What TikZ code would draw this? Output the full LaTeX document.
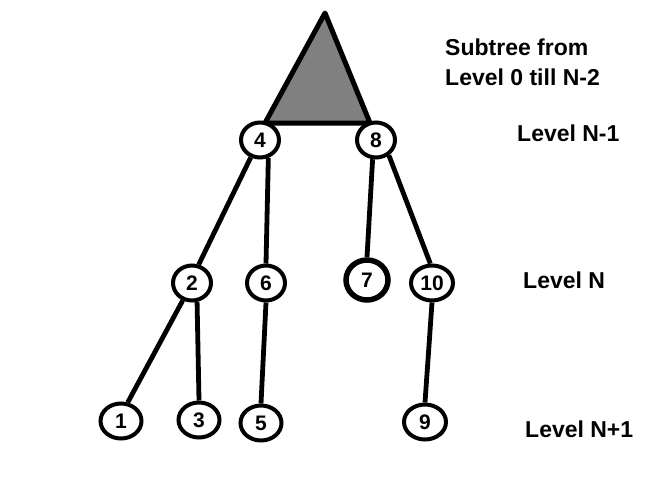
\documentclass[tikz,border=0pt]{standalone}
\usepackage{fontspec}
\setmainfont{Liberation Sans}
\usetikzlibrary{shapes.geometric}
\definecolor{SubtreeGray}{RGB}{128,128,128}
\tikzset{
  keynode/.style={ellipse,draw=black,line width=4pt,fill=white,
    minimum width=38pt,minimum height=35pt,inner sep=0pt,
    font=\fontsize{21}{21}\selectfont\bfseries},
  bignode/.style={keynode,line width=5.5pt,minimum width=42pt,minimum height=40pt},
  edge/.style={line width=4.8pt,black},
  levellabel/.style={anchor=base west,inner sep=0pt,
    font=\fontsize{23}{26}\selectfont\bfseries,align=left}
}

\begin{document}
\begin{tikzpicture}[x=1pt,y=-1pt]
          \useasboundingbox (0,0) rectangle (661,503);
          % subtree above level N-1
          \coordinate (apex) at (325,13);
          \filldraw[fill=SubtreeGray,draw=black,line width=5pt,line join=round]
            (apex) -- (370,123) -- (265,123) -- cycle;
          % level N-1
          \node[keynode] (n4) at (260,140) {4};
          \node[keynode] (n8) at (376,140) {8};
          % level N
          \node[keynode] (n2) at (192,283) {2};
          \node[keynode] (n6) at (266,283) {6};
          \node[bignode] (n7) at (367,280) {7};
          \node[keynode,minimum width=42pt] (n10) at (432,283) {10};
          % level N+1
          \node[keynode,minimum width=41pt] (n1) at (121,421) {1};
          \node[keynode,minimum width=41pt] (n3) at (199,420) {3};
          \node[keynode,minimum width=41pt] (n5) at (261,423) {5};
          \node[keynode,minimum width=42pt] (n9) at (425,422) {9};
          % edges
          \draw[edge] (n4.242) -- (n2.70);
          \draw[edge] (n4.-65) -- (n6.north);
          \draw[edge] (n8.-100) -- (n7.north);
          \draw[edge] (n8.-50) -- (n10.95);
          \draw[edge] (n2.-118) -- (n1.70);
          \draw[edge] (n2.-75) -- (n3.north);
          \draw[edge] (n6.south) -- (n5.north);
          \draw[edge] (n10.south) -- (n9.north);
          % level names
          \node[levellabel] (sub) at (445,56) {Subtree from};
          \node[levellabel] (sub2) at (445,85) {Level 0 till N-2};
          \node[levellabel] (lvl1) at (517,141) {Level N-1};
          \node[levellabel] (lvl2) at (523,288) {Level N};
          \node[levellabel] (lvl3) at (525,437) {Level N+1};
        \end{tikzpicture}
\end{document}
